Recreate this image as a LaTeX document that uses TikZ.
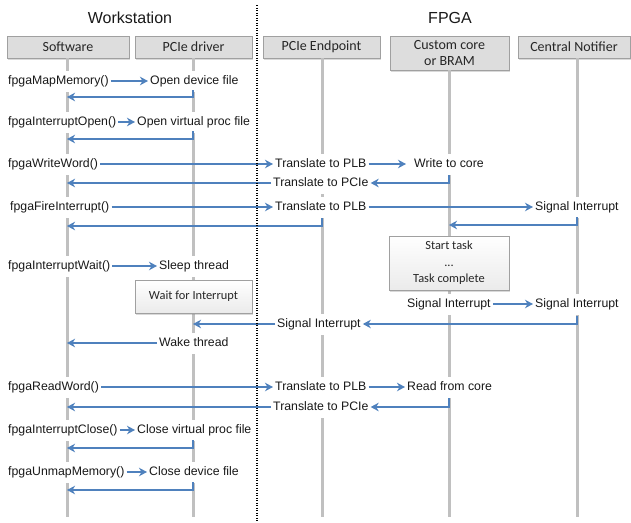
\documentclass[tikz,border=0pt]{standalone}
\usepackage{fontspec}
\setmainfont{Liberation Sans}
\newfontfamily\calfont{Carlito}
\usetikzlibrary{arrows.meta,shadows}
\definecolor{arr}{RGB}{79,129,189}
\definecolor{life}{RGB}{192,192,192}
\definecolor{hdrfill}{RGB}{221,221,221}
\definecolor{hdrdraw}{RGB}{160,160,160}
\begin{document}
\begin{tikzpicture}[x=1pt,y=-1pt,
  lbl/.style={font=\fontsize{12.3}{14}\selectfont, fill=white, inner xsep=2pt, inner ysep=0pt,
    text height=9pt, text depth=2.6pt, minimum height=21pt, anchor=west, text=black!90},
  hdr/.style={draw=hdrdraw, fill=hdrfill, line width=0.8pt, font=\calfont\fontsize{14}{16}\selectfont,
    text=black!85, inner sep=0pt, align=center,
    drop shadow={shadow xshift=1pt, shadow yshift=-1.5pt, opacity=0.3}},
  notebox/.style={draw=hdrdraw, top color=white, bottom color=black!8, line width=0.8pt,
    font=\calfont\fontsize{12.4}{16.5}\selectfont, text=black!85, inner sep=0pt, align=center,
    drop shadow={shadow xshift=1pt, shadow yshift=-1.5pt, opacity=0.3}},
  lifeline/.style={draw=life, line width=3pt},
  msg/.style={draw=arr, line width=2.5pt, -{Stealth[length=8pt,width=8.5pt,inset=2.5pt]}},
  divider/.style={draw=black, line width=1.8pt, dash pattern=on 1.4pt off 1.1pt},
  title/.style={font=\fontsize{16}{18}\selectfont, text=black!90}
]
\useasboundingbox (0,0) rectangle (631,522);

% titles
\node[title] (ws) at (130,18) {Workstation};
\node[title] (fp) at (450,18) {FPGA};

% header boxes
\node[hdr, minimum width=122pt, minimum height=22pt] (hsw) at (68,47) {Software};
\node[hdr, minimum width=117pt, minimum height=22pt] (hdrv) at (193.5,47) {PCIe driver};
\node[hdr, minimum width=117pt, minimum height=22pt] (hep) at (321.5,47) {PCIe Endpoint};
\node[hdr, minimum width=119pt, minimum height=34pt] (hcc) at (449.5,53) {Custom core\\or BRAM};
\node[hdr, minimum width=112pt, minimum height=22pt] (hcn) at (574,47) {Central Notifier};

% lifelines
\coordinate (swT) at (67,58);   \coordinate (swB) at (67,517);
\coordinate (drT) at (193,58);  \coordinate (drB) at (193,517);
\coordinate (epT) at (322,58);  \coordinate (epB) at (322,517);
\coordinate (ccT) at (449,70);  \coordinate (ccB) at (449,517);
\coordinate (cnT) at (577,58);  \coordinate (cnB) at (577,517);
\draw[lifeline] (swT) -- (swB);
\draw[lifeline] (drT) -- (drB);
\draw[lifeline] (epT) -- (epB);
\draw[lifeline] (ccT) -- (ccB);
\draw[lifeline] (cnT) -- (cnB);

% note boxes
\node[notebox, minimum width=120pt, minimum height=54pt] (task) at (449,263) {Start task\\...\\Task complete};
\node[notebox, minimum width=117pt, minimum height=33pt] (wfi) at (193.5,296.5) {Wait for Interrupt};

% labels
\node[lbl] (m1) at (6,81) {fpgaMapMemory()};
\node[lbl] (d1) at (148,81) {Open device file};
\node[lbl] (m2) at (6,122) {fpgaInterruptOpen()};
\node[lbl] (d2) at (135,122) {Open virtual proc file};
\node[lbl] (m3) at (6,164) {fpgaWriteWord()};
\node[lbl] (e3) at (273,164) {Translate to PLB};
\node[lbl] (c3) at (412,164) {Write to core};
\node[lbl] (e3r) at (271,183) {Translate to PCIe};
\node[lbl] (m4) at (8,207) {fpgaFireInterrupt()};
\node[lbl] (e4) at (273,207) {Translate to PLB};
\node[lbl] (n4) at (533,207) {Signal Interrupt};
\node[lbl] (m5) at (6,266) {fpgaInterruptWait()};
\node[lbl] (d5) at (157,266) {Sleep thread};
\node[lbl] (c5) at (405,304) {Signal Interrupt};
\node[lbl] (n5) at (533,304) {Signal Interrupt};
\node[lbl] (e5) at (275,324) {Signal Interrupt};
\node[lbl] (d6) at (157,343) {Wake thread};
\node[lbl] (m6) at (6,387) {fpgaReadWord()};
\node[lbl] (e6) at (273,387) {Translate to PLB};
\node[lbl] (c6) at (405,387) {Read from core};
\node[lbl] (e6r) at (271,407) {Translate to PCIe};
\node[lbl] (m7) at (6,430) {fpgaInterruptClose()};
\node[lbl] (d7) at (135,430) {Close virtual proc file};
\node[lbl] (m8) at (6,472) {fpgaUnmapMemory()};
\node[lbl] (d8) at (147,472) {Close device file};

% return coordinates
\coordinate (r1s) at (193,90);  \coordinate (r1e) at (67,97);
\coordinate (r2s) at (193,131); \coordinate (r2e) at (67,139);
\coordinate (r3s) at (449,175); \coordinate (r3e) at (67,183);
\coordinate (r4s) at (577,217); \coordinate (r4e) at (449,225);
\coordinate (r5s) at (322,218); \coordinate (r5e) at (67,226);
\coordinate (r6s) at (577,316); \coordinate (r6e) at (193,324);
\coordinate (r7e) at (67,343);
\coordinate (r8s) at (449,398); \coordinate (r8e) at (67,407);
\coordinate (r9s) at (193,440); \coordinate (r9e) at (67,448);
\coordinate (r10s) at (193,482); \coordinate (r10e) at (67,490);

% messages
\draw[msg] (m1.east) -- (d1.west);
\draw[msg] (r1s) |- (r1e);
\draw[msg] (m2.east) -- (d2.west);
\draw[msg] (r2s) |- (r2e);
\draw[msg] (m3.east) -- (e3.west);
\draw[msg, shorten >=6pt] (e3.east) -- (c3.west);
\draw[msg] (r3s) |- (e3r.east);
\draw[msg] (e3r.west) -- (r3e);
\draw[msg] (m4.east) -- (e4.west);
\draw[msg] (e4.east) -- (n4.west);
\draw[msg] (r4s) |- (r4e);
\draw[msg] (r5s) |- (r5e);
\draw[msg] (m5.east) -- (d5.west);
\draw[msg] (c5.east) -- (n5.west);
\draw[msg] (r6s) |- (e5.east);
\draw[msg] (e5.west) -- (r6e);
\draw[msg] (d6.west) -- (r7e);
\draw[msg] (m6.east) -- (e6.west);
\draw[msg] (e6.east) -- (c6.west);
\draw[msg] (r8s) |- (e6r.east);
\draw[msg] (e6r.west) -- (r8e);
\draw[msg] (m7.east) -- (d7.west);
\draw[msg] (r9s) |- (r9e);
\draw[msg] (m8.east) -- (d8.west);
\draw[msg] (r10s) |- (r10e);

% divider
\coordinate (dvT) at (257,5); \coordinate (dvB) at (257,522);
\draw[divider] (dvT) -- (dvB);
\end{tikzpicture}
\end{document}
